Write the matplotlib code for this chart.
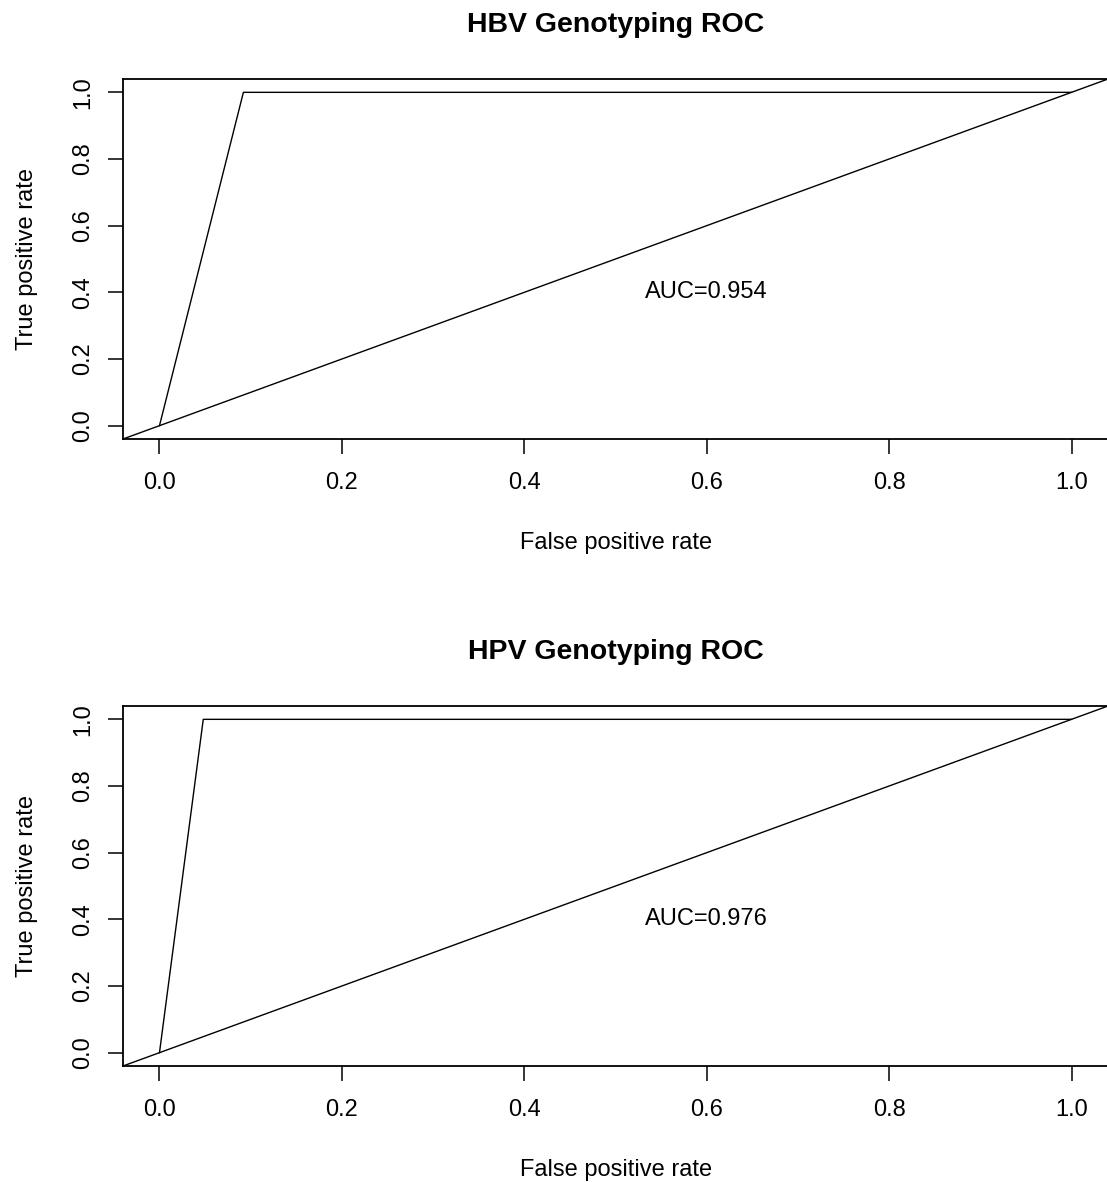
import matplotlib
matplotlib.use("Agg")
import matplotlib.pyplot as plt

plt.rcParams['font.family'] = ['Liberation Sans', 'DejaVu Sans']

titles = ["HBV Genotyping ROC", "HPV Genotyping ROC"]
fpr_hbv = [0.0, 0.092, 1.0]
tpr_hbv = [0.0, 1.0, 1.0]
fpr_hpv = [0.0, 0.048, 1.0]
tpr_hpv = [0.0, 1.0, 1.0]
auc_labels = ["AUC=0.954", "AUC=0.976"]
ticks = [0.0, 0.2, 0.4, 0.6, 0.8, 1.0]
tick_labels = ["0.0", "0.2", "0.4", "0.6", "0.8", "1.0"]

W, H = 1107, 1183
fig = plt.figure(figsize=(W / 100, H / 100), dpi=100)

curves = [(fpr_hbv, tpr_hbv), (fpr_hpv, tpr_hpv)]
# panel offset in pixels (second panel sits lower)
offsets = [0, 627]

for i, (fpr, tpr) in enumerate(curves):
    dy = offsets[i]
    left, right = 123, 1108
    top, bot = 79 + dy, 439 + dy
    ax = fig.add_axes([left / W, 1 - bot / H, (right - left) / W, (bot - top) / H])
    ax.plot(fpr, tpr, color='black', lw=1.0)
    ax.plot([-0.04, 1.04], [-0.04, 1.04], color='black', lw=1.0)
    ax.text(0.6, 0.4, auc_labels[i], ha='center', va='center', fontsize=17)
    ax.set_xlim(-0.04, 1.04)
    ax.set_ylim(-0.04, 1.04)
    ax.set_xticks(ticks)
    ax.set_xticklabels(tick_labels)
    ax.set_yticks(ticks)
    ax.set_yticklabels(tick_labels, rotation=90, va='center')
    ax.tick_params(direction='out', length=10.8, width=1.1, labelsize=17, colors='black')
    ax.tick_params(axis='x', pad=13)
    ax.tick_params(axis='y', pad=10)
    for s in ax.spines.values():
        s.set_linewidth(1.3)
    fig.text(616 / W, 1 - (32 + dy) / H, titles[i], ha='center', va='baseline',
             fontsize=20.5, fontweight='bold')
    fig.text(616 / W, 1 - (549 + dy) / H, "False positive rate", ha='center', va='baseline',
             fontsize=17)
    fig.text(33 / W, 1 - (top + bot) / 2 / H, "True positive rate", ha='center', va='baseline',
             rotation=90, rotation_mode='anchor', fontsize=17)

fig.savefig("out.png", dpi=100)
